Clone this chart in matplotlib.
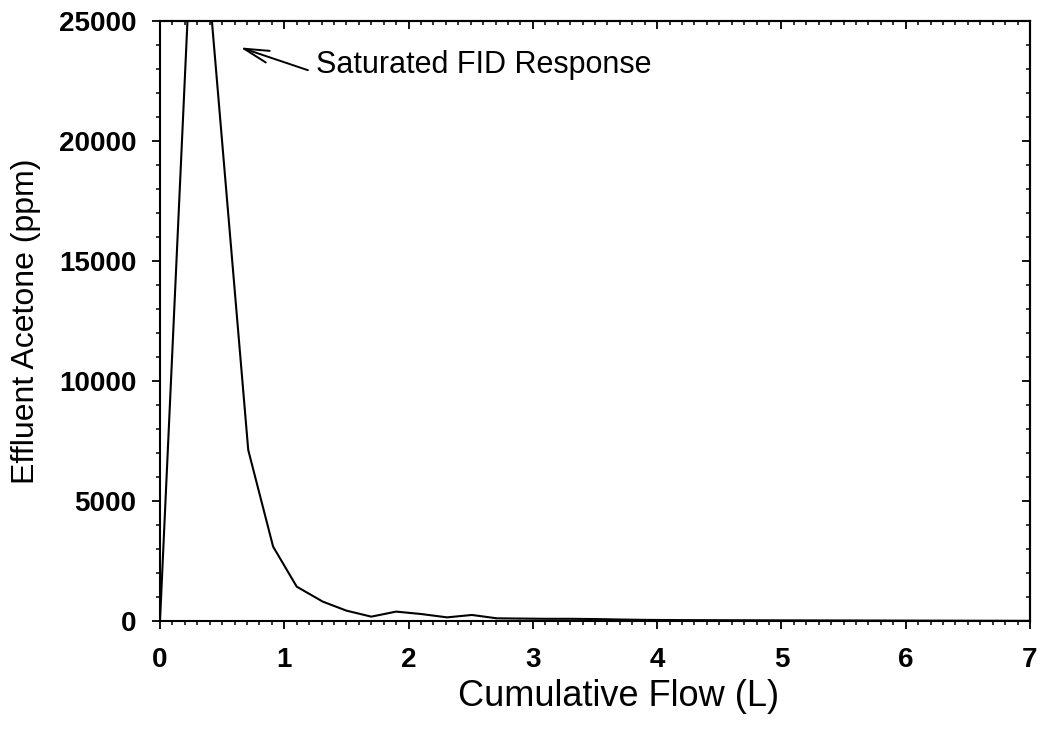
import numpy as np
import matplotlib
matplotlib.use("Agg")
import matplotlib.pyplot as plt
from matplotlib.ticker import MultipleLocator

plt.rcParams['font.family'] = ['Liberation Sans', 'DejaVu Sans']

# cumulative flow (L) and effluent acetone (ppm)
flow = [0.0, 0.29, 0.71, 0.91, 1.10, 1.31, 1.50, 1.70, 1.90, 2.10, 2.31,
        2.51, 2.71, 2.90, 3.10, 3.30, 3.50, 3.70, 3.90, 4.20, 4.60,
        5.00, 5.50, 6.00, 6.50, 7.00]
acetone = [0, 32800, 7125, 3100, 1430, 805, 430, 180, 390, 290, 150,
           250, 110, 100, 90, 90, 80, 60, 45, 35, 30,
           25, 20, 15, 10, 5]

x_ticks = [0, 1, 2, 3, 4, 5, 6, 7]
y_ticks = [0, 5000, 10000, 15000, 20000, 25000]

fig = plt.figure(figsize=(10.43, 7.34), dpi=100)
ax = fig.add_axes([0.1534, 0.154, 0.8341, 0.8174])

ax.plot(flow, acetone, color='black', linewidth=1.5)

ax.set_xlim(0, 7)
ax.set_ylim(0, 25000)
ax.set_xticks(x_ticks)
ax.set_yticks(y_ticks)
ax.xaxis.set_minor_locator(MultipleLocator(0.1))
ax.yaxis.set_minor_locator(MultipleLocator(1000))

for s in ax.spines.values():
    s.set_linewidth(1.5)

ax.tick_params(which='major', direction='out', length=6, width=1.3,
               labelsize=20, pad=13)
ax.tick_params(axis='y', which='major', pad=11)
ax.tick_params(which='minor', direction='out', length=3, width=1.1)
for lab in ax.get_xticklabels() + ax.get_yticklabels():
    lab.set_fontweight('bold')

# mirrored ticks on top and right point inward
top = ax.secondary_xaxis('top')
top.set_xticks(x_ticks)
top.xaxis.set_minor_locator(MultipleLocator(0.1))
top.tick_params(which='major', direction='in', length=6, width=1.3, labeltop=False)
top.tick_params(which='minor', direction='in', length=3, width=1.1)
right = ax.secondary_yaxis('right')
right.set_yticks(y_ticks)
right.yaxis.set_minor_locator(MultipleLocator(1000))
right.tick_params(which='major', direction='in', length=6, width=1.3, labelright=False)
right.tick_params(which='minor', direction='in', length=3, width=1.1)
for sec in (top, right):
    for s in sec.spines.values():
        s.set_linewidth(1.5)

ax.set_xlabel('Cumulative Flow (L)', fontsize=26)
ax.xaxis.set_label_coords(0.527, -0.096, transform=ax.transAxes)
ax.xaxis.label.set_va('top')
ax.set_ylabel('Effluent Acetone (ppm)', fontsize=23, labelpad=13)

ax.annotate('', xy=(0.645, 23900), xytext=(1.19, 22950),
            arrowprops=dict(arrowstyle='->, head_length=0.9, head_width=0.22',
                            mutation_scale=20, color='black', lw=1.4,
                            shrinkA=0, shrinkB=0))
ax.text(1.255, 23150, 'Saturated FID Response', fontsize=22,
        ha='left', va='center')

fig.savefig('out.png', dpi=100)
